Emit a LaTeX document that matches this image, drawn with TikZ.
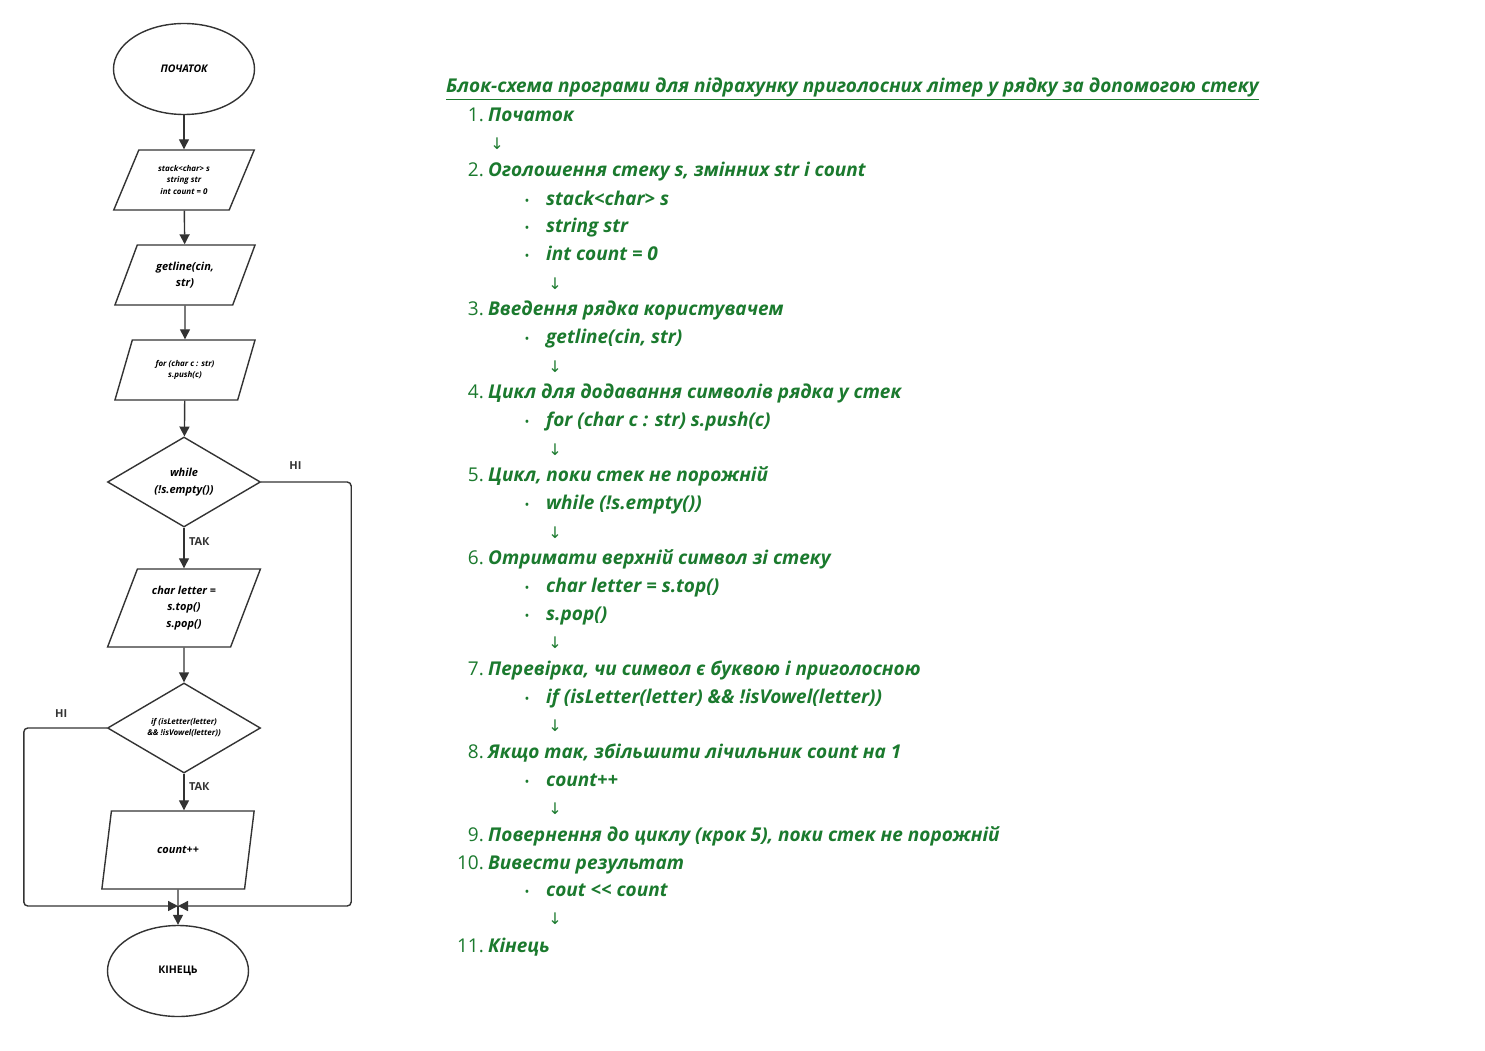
\documentclass[tikz,border=0pt]{standalone}
\usepackage{fontspec}
\setmainfont{Open Sans}
\newfontfamily\arrowfont{DejaVu Sans}
\usetikzlibrary{
  arrows.meta,
  positioning,
  shapes.geometric
}
\definecolor{fcgray}{HTML}{333333}
\definecolor{txgreen}{HTML}{1B7A2E}

\begin{document}
\begin{tikzpicture}[x=1pt, y=-1pt,
  term/.style={draw=fcgray, line width=1.4pt, ellipse, minimum width=141pt, minimum height=91pt,
    font=\fontsize{10.5}{12}\selectfont\bfseries},
  iobox/.style={draw=fcgray, line width=1.4pt, trapezium, trapezium left angle=63, trapezium right angle=117,
    trapezium stretches=true, minimum width=141pt, minimum height=60pt, align=center, inner sep=0pt,
    font=\fontsize{11}{16.5}\selectfont\bfseries\itshape},
  decision/.style={draw=fcgray, line width=1.4pt, diamond, minimum width=153pt, minimum height=90pt,
    aspect=1.7, align=center, inner sep=0pt, font=\fontsize{11}{16.5}\selectfont\bfseries\itshape},
  tiny/.style={font=\fontsize{8}{11}\selectfont\bfseries\itshape},
  arrow/.style={-{Triangle[length=10pt, width=10pt]}, line width=1.4pt, draw=fcgray},
  line/.style={line width=1.4pt, draw=fcgray, rounded corners=4pt},
  lbl/.style={font=\fontsize{11}{12}\selectfont\bfseries, text=fcgray},
  title/.style={anchor=base west, inner sep=0pt, text=txgreen, font=\fontsize{19}{22}\selectfont\bfseries\itshape},
  num/.style={anchor=base east, inner sep=0pt, text=txgreen, font=\fontsize{19}{22}\selectfont},
  stepitem/.style={anchor=base west, inner sep=0pt, text=txgreen, font=\fontsize{19}{22}\selectfont\bfseries\itshape},
  dot/.style={anchor=base, inner sep=0pt, text=txgreen, font=\fontsize{13}{22}\selectfont},
  down/.style={anchor=base, inner sep=0pt, text=txgreen, font=\fontsize{16}{22}\selectfont\arrowfont}
]
  \useasboundingbox[fill=white] (0,0) rectangle (1485,1051);

  % flowchart
  \node[term, font=\fontsize{10.5}{12}\selectfont\bfseries\itshape] (start) at (184,69) {ПОЧАТОК};
  \node[iobox, tiny] (decl) at (184,180) {stack<char> s\\string str\\int count = 0};
  \node[iobox] (input) at (185,275) {getline(cin,\\str)};
  \node[iobox, tiny] (fill) at (185,370) {for (char c : str)\\s.push(c)};
  \node[decision] (loop) at (184,482) {while\\(!s.empty())};
  \node[iobox, minimum height=78pt, minimum width=153pt, trapezium left angle=65, trapezium right angle=115]
    (pop) at (184,608) {char letter =\\s.top()\\s.pop()};
  \node[decision, tiny] (check) at (184,728) {if (isLetter(letter)\\\&\& !isVowel(letter))};
  \node[iobox, minimum height=78pt, minimum width=153pt, trapezium left angle=68, trapezium right angle=112]
    (inc) at (178,850) {count++};
  \node[term] (stop) at (178,971) {КІНЕЦЬ};
  \coordinate (merge) at (178,906);

  \draw[arrow] (start) -- (decl);
  \draw[arrow] (decl) -- (input);
  \draw[arrow] (input) -- (fill);
  \draw[arrow] (fill) -- (loop);
  \draw[arrow] (loop) -- node[lbl, right, pos=0.35, xshift=1pt] {ТАК} (pop);
  \draw[arrow] (pop) -- (check);
  \draw[arrow] (check.south) -- node[lbl, right, pos=0.35, xshift=1pt] {ТАК} (check.south |- inc.north);
  \draw[line] (inc.south) -- (merge);
  \draw[arrow] (merge) -- (stop);
  \draw[arrow, rounded corners=4pt] (loop.east) -- node[lbl, above=8pt, pos=0.38] {НІ} ++(90,0) |- (merge);
  \draw[arrow, rounded corners=4pt] (check.west) -- node[lbl, above=6pt, pos=0.55] {НІ} ++(-83,0) |- (merge);

  % description
  \node[title] (head) at (446,93)
    {\underline{Блок-схема програми для підрахунку приголосних літер у рядку за допомогою стеку}};

  \node[num] (n1) at (484,122) {1.};
  \node[stepitem] (s1) at (488,122) {Початок};
  \node[down] (d1) at (497,150) {↓};
  \node[num] (n2) at (484,177) {2.};
  \node[stepitem] (s2) at (488,177) {Оголошення стеку s, змінних str і count};
  \node[dot] at (527,205) {•};
  \node[stepitem] at (546,205) {stack<char> s};
  \node[dot] at (527,232) {•};
  \node[stepitem] at (546,232) {string str};
  \node[dot] at (527,260) {•};
  \node[stepitem] at (546,260) {int count = 0};
  \node[down] at (555,289) {↓};
  \node[num] at (484,315) {3.};
  \node[stepitem] at (488,315) {Введення рядка користувачем};
  \node[dot] at (527,343) {•};
  \node[stepitem] at (546,343) {getline(cin, str)};
  \node[down] at (555,372) {↓};
  \node[num] at (484,398) {4.};
  \node[stepitem] at (488,398) {Цикл для додавання символів рядка у стек};
  \node[dot] at (527,426) {•};
  \node[stepitem] at (546,426) {for (char c : str) s.push(c)};
  \node[down] at (555,455) {↓};
  \node[num] at (484,481) {5.};
  \node[stepitem] at (488,481) {Цикл, поки стек не порожній};
  \node[dot] at (527,509) {•};
  \node[stepitem] at (546,509) {while (!s.empty())};
  \node[down] at (555,538) {↓};
  \node[num] at (484,564) {6.};
  \node[stepitem] at (488,564) {Отримати верхній символ зі стеку};
  \node[dot] at (527,592) {•};
  \node[stepitem] at (546,592) {char letter = s.top()};
  \node[dot] at (527,620) {•};
  \node[stepitem] at (546,620) {s.pop()};
  \node[down] at (555,648) {↓};
  \node[num] at (484,675) {7.};
  \node[stepitem] at (488,675) {Перевірка, чи символ є буквою і приголосною};
  \node[dot] at (527,703) {•};
  \node[stepitem] at (546,703) {if (isLetter(letter) \&\& !isVowel(letter))};
  \node[down] at (555,731) {↓};
  \node[num] at (484,758) {8.};
  \node[stepitem] at (488,758) {Якщо так, збільшити лічильник count на 1};
  \node[dot] at (527,786) {•};
  \node[stepitem] at (546,786) {count++};
  \node[down] at (555,814) {↓};
  \node[num] at (484,841) {9.};
  \node[stepitem] at (488,841) {Повернення до циклу (крок 5), поки стек не порожній};
  \node[num] at (484,869) {10.};
  \node[stepitem] at (488,869) {Вивести результат};
  \node[dot] at (527,896) {•};
  \node[stepitem] at (546,896) {cout <{}< count};
  \node[down] at (555,924) {↓};
  \node[num] at (484,952) {11.};
  \node[stepitem] at (488,952) {Кінець};
\end{tikzpicture}
\end{document}
